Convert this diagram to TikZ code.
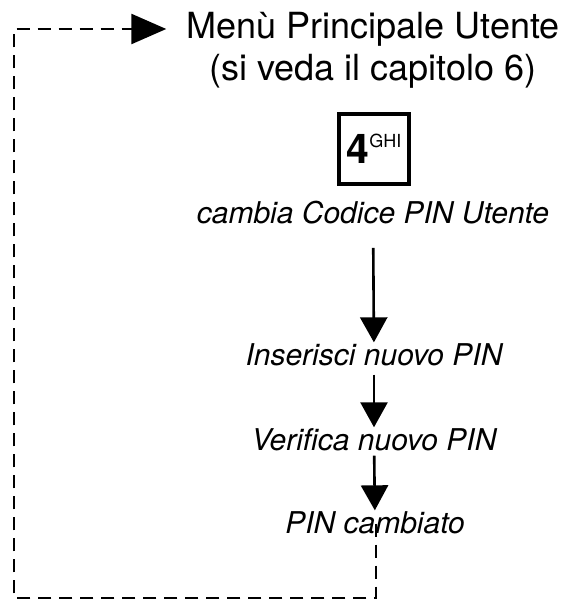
\documentclass[tikz,border=0pt]{standalone}
\usepackage{fontspec}
\setmainfont{TeX Gyre Heros}
\usetikzlibrary{arrows.meta}
\begin{document}
\begin{tikzpicture}[x=1pt,y=-1pt,
  bigtext/.style={inner sep=0pt,font=\fontsize{36}{40}\selectfont},
  steptext/.style={inner sep=0pt,outer sep=1.5pt,font=\fontsize{30}{34}\selectfont\itshape},
  keybox/.style={draw,line width=4pt,minimum width=70pt,minimum height=70pt,inner sep=0pt},
  flow/.style={line width=2.6pt,-{Triangle[length=25pt,width=27pt]}},
  back/.style={line width=2.6pt,dash pattern=on 13pt off 8pt,-{Triangle[length=35pt,width=30pt]}}]
\useasboundingbox (0,0) rectangle (563,601);
\node[bigtext] (menu) at (373,29) {Menù Principale Utente};
\node[bigtext] (chap) at (373,71) {(si veda il capitolo 6)};
\node[keybox] (key) at (374,149) {{\bfseries\fontsize{41}{41}\selectfont 4}\raisebox{16pt}{\fontsize{18}{18}\selectfont GHI}};
\node[steptext] (cambia) at (373,213) {cambia Codice PIN Utente};
\node[steptext] (ins) at (374,355) {Inserisci nuovo PIN};
\node[steptext] (ver) at (374,440) {Verifica nuovo PIN};
\node[steptext] (pin) at (375,523) {PIN cambiato};
\coordinate (br) at (376,598);
\coordinate (bl) at (14,598);
\draw[flow,shorten <=22pt] (cambia) -- (ins);
\draw[flow,shorten <=7pt] (ins) -- (ver);
\draw[flow,shorten <=3pt] (ver) -- (pin);
\draw[back] ([yshift=12pt]pin.south -| br) -- (br) -- (bl) |- ([xshift=-20pt]menu.west);
\end{tikzpicture}
\end{document}
